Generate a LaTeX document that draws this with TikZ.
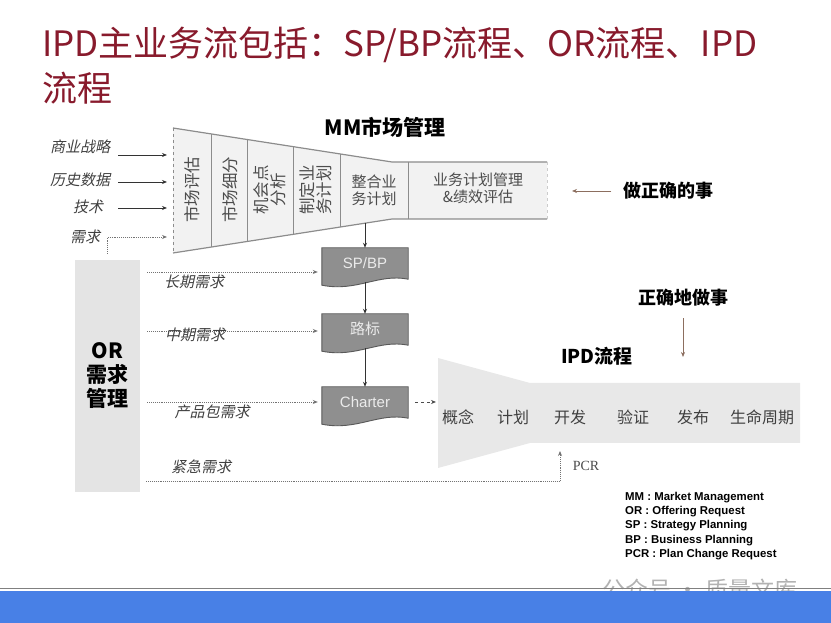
\documentclass[tikz,border=0pt]{standalone}
\usepackage{fontspec}
\setmainfont{Noto Sans CJK SC}
\newfontfamily\cjkit[FakeSlant=0.22]{Noto Sans CJK SC}
\newfontfamily\arialfont{Liberation Sans}
\newfontfamily\timesfont{Liberation Serif}
\usetikzlibrary{calc,arrows.meta}
\tikzset {>={Stealth[length=5pt,width=4pt]}}
\pgfdeclarelayer{bg}
\pgfsetlayers{bg,main}

\definecolor{titlered}{RGB}{136,26,44}
\definecolor{funnelgray}{RGB}{242,242,242}
\definecolor{ipdgray}{RGB}{232,232,232}
\definecolor{orgray}{RGB}{228,228,228}
\definecolor{docgray}{RGB}{143,143,143}
\definecolor{hintbrown}{RGB}{140,110,95}
\definecolor{barblue}{RGB}{72,128,230}

\tikzset{
  titletext/.style={anchor=west, inner sep=0pt, text=titlered, font=\fontsize{35}{35}\selectfont},
  heading/.style={font=\bfseries\fontsize{19}{19}\selectfont},
  funtext/.style={font=\fontsize{15}{17}\selectfont, text=black!70, align=center, inner sep=0pt},
  funrot/.style={funtext, font=\fontsize{16.5}{17}\selectfont, rotate=90},
  inlabel/.style={font=\cjkit\fontsize{15}{15}\selectfont, text=black!75, inner sep=0pt},
  stage/.style={font=\fontsize{16}{16}\selectfont, text=black!75},
  docbox/.style={minimum width=86pt, minimum height=30pt, inner sep=0pt, text=black!8, font=\fontsize{15}{15}\selectfont},
  docshape/.style={fill=docgray, draw=black!65, line width=0.9pt},
  funnelline/.style={draw=black!45, line width=1.2pt},
  divider/.style={draw=black!45, line width=1pt},
  dotline/.style={densely dotted, draw=black!55, line width=0.9pt},
  inarrow/.style={draw=black!80, line width=0.8pt, ->},
  hintarrow/.style={draw=hintbrown, line width=0.7pt, ->},
}

% document shape drawn behind a node
\newcommand{\docoutline}[1]{%
  \begin{pgfonlayer}{bg}
  \draw[docshape] (#1.north west) -- (#1.north east) -- ($(#1.south east)+(0,-1)$)
    .. controls ($(#1.south east)+(-30,5)$) and ($(#1.south west)+(35,-14)$) .. ($(#1.south west)+(0,-7)$) -- cycle;
  \end{pgfonlayer}}

\begin{document}
\begin{tikzpicture}[x=1pt,y=1pt]
\useasboundingbox (0,0) rectangle (831,623);

% title
\node[titletext] (title1) at (42,578) {IPD主业务流包括：SP/BP流程、OR流程、IPD};
\node[titletext] (title2) at (42,535) {流程};

% MM funnel
\node[heading, font=\bfseries\fontsize{21}{21}\selectfont] (mmHead) at (385,496) {MM市场管理};
\coordinate (mmTL) at (173,495);
\coordinate (mmTN) at (392,461);
\coordinate (mmTR) at (547,461);
\coordinate (mmBR) at (547,404);
\coordinate (mmBN) at (392,404);
\coordinate (mmBL) at (173,370);
\fill[funnelgray] (mmTL) -- (mmTN) -- (mmTR) -- (mmBR) -- (mmBN) -- (mmBL) -- cycle;
\draw[funnelline] (mmTL) -- (mmTN) -- (mmTR);
\draw[funnelline] (mmBL) -- (mmBN) -- (mmBR);
\draw[black!45, dashed, line width=1pt] (mmTL) -- (mmBL);
\draw[black!20, dashed] (mmTR) -- (mmBR);
\draw[divider] ($(mmTL)!.178!(mmTN)$) -- ($(mmBL)!.178!(mmBN)$);
\draw[divider] ($(mmTL)!.342!(mmTN)$) -- ($(mmBL)!.342!(mmBN)$);
\draw[divider] ($(mmTL)!.548!(mmTN)$) -- ($(mmBL)!.548!(mmBN)$);
\draw[divider] ($(mmTL)!.763!(mmTN)$) -- ($(mmBL)!.763!(mmBN)$);
\draw[divider] ($(mmTN)+(16,0)$) -- ($(mmBN)+(16,0)$);
\node[funrot] (mmEval) at (192.5,433) {市场评估};
\node[funrot] (mmSeg) at (230,433) {市场细分};
\node[funrot] (mmChance) at (270,433) {机会点\\分析};
\node[funrot] (mmPlan) at (316,433) {制定业\\务计划};
\node[funtext] (mmMerge) at (374,433) {整合业\\务计划};
\node[funtext] (mmManage) at (478,435) {业务计划管理\\\&绩效评估};

% inputs
\node[inlabel] (lbStrat) at (80,476) {商业战略};
\node[inlabel] (lbHist) at (80,443) {历史数据};
\node[inlabel] (lbTech) at (88,416) {技术};
\node[inlabel] (lbDemand) at (85,386) {需求};
\coordinate (inStrat) at ($(mmTL)!.216!(mmBL)+(-6,0)$);
\coordinate (inHist) at ($(mmTL)!.432!(mmBL)+(-6,0)$);
\coordinate (inTech) at ($(mmTL)!.64!(mmBL)+(-6,0)$);
\coordinate (inDemand) at ($(mmTL)!.872!(mmBL)+(-6,0)$);
\draw[inarrow] ($(lbStrat.east |- inStrat)+(8,0)$) -- (inStrat);
\draw[inarrow] ($(lbHist.east |- inHist)+(8,0)$) -- (inHist);
\draw[inarrow] ($(lbTech.east |- inTech)+(15,0)$) -- (inTech);

% OR
\node[fill=orgray, minimum width=65pt, minimum height=232pt, align=center,
  font=\bfseries\fontsize{21}{24}\selectfont] (orBox) at (107.5,247) {OR\\需求\\管理};
\draw[dotline, ->] ([yshift=6pt]orBox.north) |- (inDemand);

% SP/BP chain
\node[docbox] (spbp) at (365,360) {\arialfont SP/BP};
\docoutline{spbp}
\node[docbox] (road) at (365,294) {路标};
\docoutline{road}
\node[docbox] (charter) at (365,221) {\arialfont Charter};
\docoutline{charter}
\coordinate (mmOut) at ($(mmBL)!.877!(mmBN)$);
\draw[inarrow] (spbp.north |- mmOut) -- (spbp.north);
\draw[inarrow] ([yshift=-4pt]spbp.south) -- (road.north);
\draw[inarrow] ([yshift=-4pt]road.south) -- (charter.north);

\draw[dotline, ->] ($(orBox.east |- spbp.west)+(7,-9)$) -- ([xshift=-4pt,yshift=-9pt]spbp.west);
\draw[dotline, ->] ($(orBox.east |- road.west)+(7,-2)$) -- ([xshift=-4pt,yshift=-2pt]road.west);
\draw[dotline, ->] ($(orBox.east |- charter.west)+(7,0)$) -- ([xshift=-4pt]charter.west);
\node[inlabel] (lbLong) at (194,341) {长期需求};
\node[inlabel] (lbMid) at (195,288) {中期需求};
\node[inlabel] (lbPack) at (212,211) {产品包需求};
\node[inlabel] (lbUrgent) at (201,156) {紧急需求};

% IPD funnel
\node[heading] (ipdHead) at (597,267) {IPD流程};
\coordinate (ipdTL) at (438,265);
\coordinate (ipdTN) at (530,240);
\coordinate (ipdTR) at (800,240);
\coordinate (ipdBR) at (800,180);
\coordinate (ipdBN) at (530,180);
\coordinate (ipdBL) at (438,155);
\fill[ipdgray] (ipdTL) -- (ipdTN) -- (ipdTR) -- (ipdBR) -- (ipdBN) -- (ipdBL) -- cycle;
\node[stage] (stConcept) at (458,206) {概念};
\node[stage] (stPlan) at (513,206) {计划};
\node[stage] (stDev) at (570,206) {开发};
\node[stage] (stVerify) at (633,206) {验证};
\node[stage] (stLaunch) at (693,206) {发布};
\node[stage] (stLife) at (762,206) {生命周期};
\draw[black!70, dashed, line width=0.8pt, ->] ([xshift=7pt]charter.east) -- ([xshift=-2pt]ipdTL |- charter.east);

% PCR
\coordinate (urgent) at ($(orBox.south east)+(6,11)$);
\coordinate (pcrIn) at (560,172);
\draw[dotline, ->] (urgent) -| (pcrIn);
\node[font=\timesfont\fontsize{14}{14}\selectfont, text=black!70] (pcr) at (586,157) {PCR};

% hints
\node[heading, font=\bfseries\fontsize{18}{18}\selectfont] (rightThing) at (668,432) {做正确的事};
\coordinate (rightThingEnd) at (572,432);
\draw[hintarrow] ([xshift=-8pt]rightThing.west) -- (rightThingEnd);
\node[heading, font=\bfseries\fontsize{18}{18}\selectfont] (doRight) at (683,325) {正确地做事};
\coordinate (doRightEnd) at (683,266);
\draw[hintarrow] ([yshift=-8pt]doRight.south) -- (doRightEnd);

% legend
\node[anchor=north west, inner sep=0pt, align=left,
  font=\arialfont\bfseries\fontsize{11.4}{14.2}\selectfont] (legend) at (625,131)
  {MM : Market Management\\OR : Offering Request\\SP : Strategy Planning\\BP : Business Planning\\PCR : Plan Change Request};

% footer
\node[text=black!30, font=\fontsize{23}{23}\selectfont] (mark) at (700,33) {公众号 · 质量文库};
\draw[black!50, line width=0.8pt] (0,35) -- (831,35);
\fill[barblue] (0,0) rectangle (831,32);
\end{tikzpicture}
\end{document}
